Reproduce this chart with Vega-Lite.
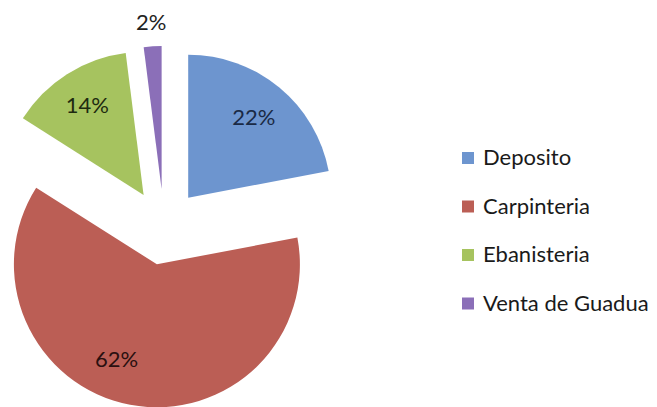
{
  "$schema": "https://vega.github.io/schema/vega-lite/v6.json",
  "width": 657,
  "height": 407,
  "padding": 0,
  "autosize": "none",
  "background": "white",
  "config": {"view": {"stroke": null}, "font": "Lato"},
  "data": {"values": [
    {"cat": "Deposito", "pct": 22, "order": 1},
    {"cat": "Carpinteria", "pct": 62, "order": 2},
    {"cat": "Ebanisteria", "pct": 14, "order": 3},
    {"cat": "Venta de Guadua", "pct": 2, "order": 4}
  ]},
  "transform": [
    {"window": [{"op": "sum", "field": "pct", "as": "cum"}], "sort": [{"field": "order"}], "frame": [null, 0]},
    {"calculate": "datum.cum - datum.pct", "as": "start"},
    {"calculate": "datum.cum - datum.pct / 2", "as": "mid"},
    {"calculate": "datum.pct + '%'", "as": "label"}
  ],
  "layer": [
    {
      "transform": [{"filter": "datum.cat === 'Deposito'"}],
      "layer": [
        {"mark": {"type": "arc", "outerRadius": 143, "xOffset": -140.3, "yOffset": -5.8},
         "encoding": {
           "theta": {"field": "start", "type": "quantitative", "scale": {"domain": [0, 100]}, "stack": null},
           "theta2": {"field": "cum"},
           "color": {"field": "cat", "type": "nominal", "scale": {"domain": ["Deposito", "Carpinteria", "Ebanisteria", "Venta de Guadua"], "range": ["#6d95cf", "#bb5e55", "#a6c35f", "#8b6fb8"]},
             "legend": {"title": null, "orient": "none", "legendX": 457, "legendY": 147, "padding": 0, "symbolType": "square", "symbolSize": 144, "symbolStrokeWidth": 0, "labelFontSize": 22, "labelFont": "Lato", "labelColor": "#1a1a1a", "labelOffset": 4, "labelLimit": 400, "rowPadding": 26.5}}
         }},
        {"mark": {"type": "text", "radius": 103, "xOffset": -140.3, "yOffset": -5.8, "fontSize": 22, "color": "#1a2a45"},
         "encoding": {"theta": {"field": "mid", "type": "quantitative", "scale": {"domain": [0, 100]}, "stack": null}, "text": {"field": "label"}}}
      ]
    },
    {
      "transform": [{"filter": "datum.cat === 'Carpinteria'"}],
      "layer": [
        {"mark": {"type": "arc", "outerRadius": 143, "xOffset": -171.6, "yOffset": 60.8},
         "encoding": {
           "theta": {"field": "start", "type": "quantitative", "scale": {"domain": [0, 100]}, "stack": null},
           "theta2": {"field": "cum"},
           "color": {"field": "cat", "type": "nominal"}
         }},
        {"mark": {"type": "text", "radius": 103, "xOffset": -171.6, "yOffset": 60.8, "dx": -21, "dy": -5, "fontSize": 22, "color": "#2a1010"},
         "encoding": {"theta": {"field": "mid", "type": "quantitative", "scale": {"domain": [0, 100]}, "stack": null}, "text": {"field": "label"}}}
      ]
    },
    {
      "transform": [{"filter": "datum.cat === 'Ebanisteria'"}],
      "layer": [
        {"mark": {"type": "arc", "outerRadius": 143, "xOffset": -184.9, "yOffset": -8.6},
         "encoding": {
           "theta": {"field": "start", "type": "quantitative", "scale": {"domain": [0, 100]}, "stack": null},
           "theta2": {"field": "cum"},
           "color": {"field": "cat", "type": "nominal"}
         }},
        {"mark": {"type": "text", "radius": 105, "xOffset": -184.9, "yOffset": -8.6, "fontSize": 22, "color": "#1e2a10"},
         "encoding": {"theta": {"field": "mid", "type": "quantitative", "scale": {"domain": [0, 100]}, "stack": null}, "text": {"field": "label"}}}
      ]
    },
    {
      "transform": [{"filter": "datum.cat === 'Venta de Guadua'"}],
      "layer": [
        {"mark": {"type": "arc", "outerRadius": 143, "xOffset": -166.9, "yOffset": -14.4},
         "encoding": {
           "theta": {"field": "start", "type": "quantitative", "scale": {"domain": [0, 100]}, "stack": null},
           "theta2": {"field": "cum"},
           "color": {"field": "cat", "type": "nominal"}
         }},
        {"mark": {"type": "text", "radius": 166, "xOffset": -166.9, "yOffset": -14.4, "fontSize": 22, "color": "#222"},
         "encoding": {"theta": {"field": "mid", "type": "quantitative", "scale": {"domain": [0, 100]}, "stack": null}, "text": {"field": "label"}}}
      ]
    }
  ]
}
